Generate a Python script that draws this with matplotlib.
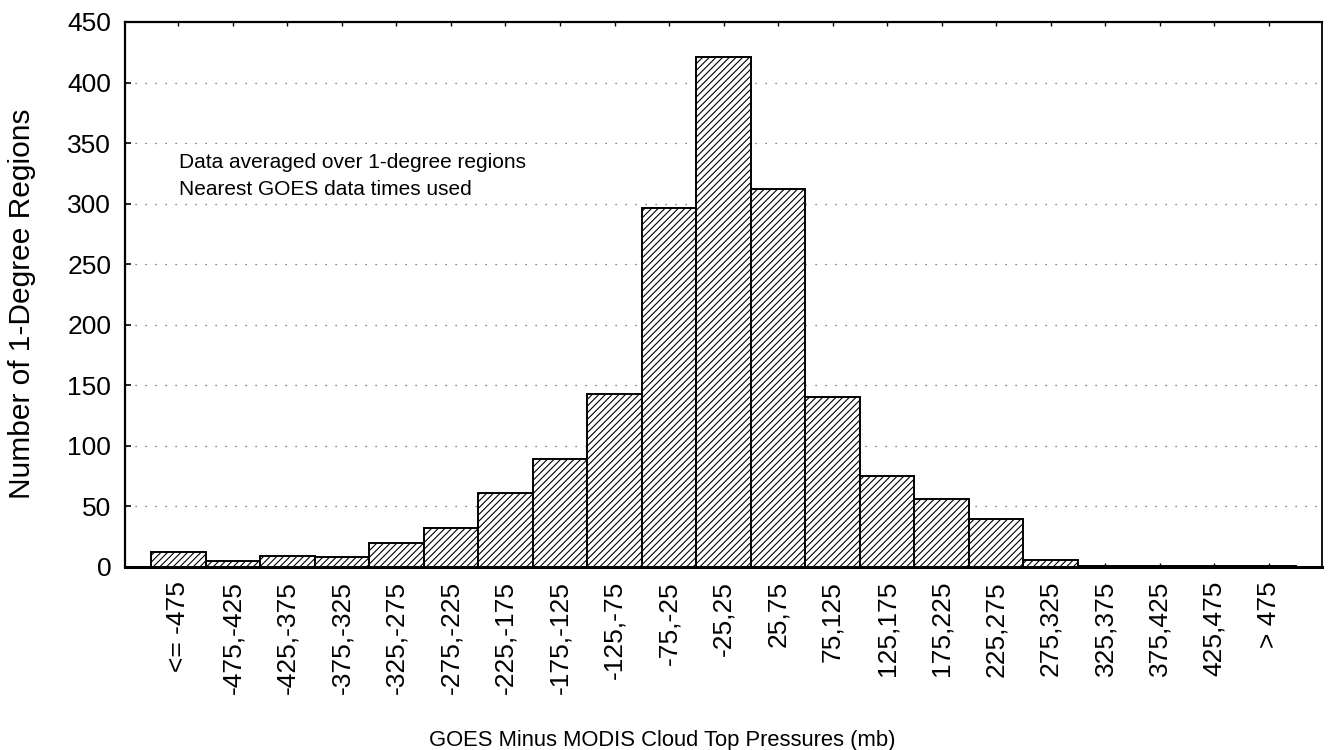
import matplotlib
matplotlib.use("Agg")
import matplotlib.pyplot as plt

plt.rcParams['font.family'] = ['Liberation Sans', 'DejaVu Sans']
plt.rcParams['hatch.linewidth'] = 0.8

# Histogram of GOES minus MODIS cloud-top pressure differences
categories = ["<= -475", "-475,-425", "-425,-375", "-375,-325", "-325,-275",
              "-275,-225", "-225,-175", "-175,-125", "-125,-75", "-75,-25",
              "-25,25", "25,75", "75,125", "125,175", "175,225", "225,275",
              "275,325", "325,375", "375,425", "425,475", "> 475"]
counts = [12, 5, 9, 8, 20, 32, 61, 89, 143, 296, 421, 312, 140, 75, 56, 40,
          6, 1, 1, 1, 1]
y_ticks = [0, 50, 100, 150, 200, 250, 300, 350, 400, 450]

W, H = 1329, 750
fig = plt.figure(figsize=(W / 100, H / 100), dpi=100)
ax = fig.add_axes([0.0941, 0.244, 0.9006, 0.7267])

x = list(range(len(categories)))
ax.bar(x, counts, width=1.0, color='white', edgecolor='black',
       linewidth=1.4, hatch='/////', zorder=3)

ax.set_xlim(-0.98, len(categories) - 1 + 0.98)
ax.set_ylim(0, 450)
ax.set_yticks(y_ticks)
ax.set_xticks(x)
ax.set_xticklabels(categories, rotation=90, fontsize=19)
ax.tick_params(axis='y', labelsize=19, direction='in', length=4, width=1.2, pad=10)
ax.tick_params(axis='x', direction='in', length=3, width=1.0, pad=10,
               top=True)

# Dotted horizontal grid
for yv in y_ticks[1:-1]:
    ax.axhline(yv, color='#555555', linestyle=(0, (1, 7)), linewidth=0.9,
               zorder=1)

for side in ['left', 'top']:
    ax.spines[side].set_linewidth(1.6)
ax.spines['bottom'].set_linewidth(2.2)
ax.spines['right'].set_linewidth(1.3)

fig.text(22 / W, 1 - 304 / H, "Number of 1-Degree Regions", rotation=90,
         ha='center', va='center', fontsize=21.5)
fig.text(662 / W, 1 - 746 / H, "GOES Minus MODIS Cloud Top Pressures (mb)",
         ha='center', va='baseline', fontsize=15.8)

fig.text(179 / W, 1 - 168 / H, "Data averaged over 1-degree regions",
         fontsize=15, ha='left', va='baseline')
fig.text(179 / W, 1 - 195 / H, "Nearest GOES data times used",
         fontsize=15, ha='left', va='baseline')

fig.savefig("out.png", dpi=100, facecolor='white')
